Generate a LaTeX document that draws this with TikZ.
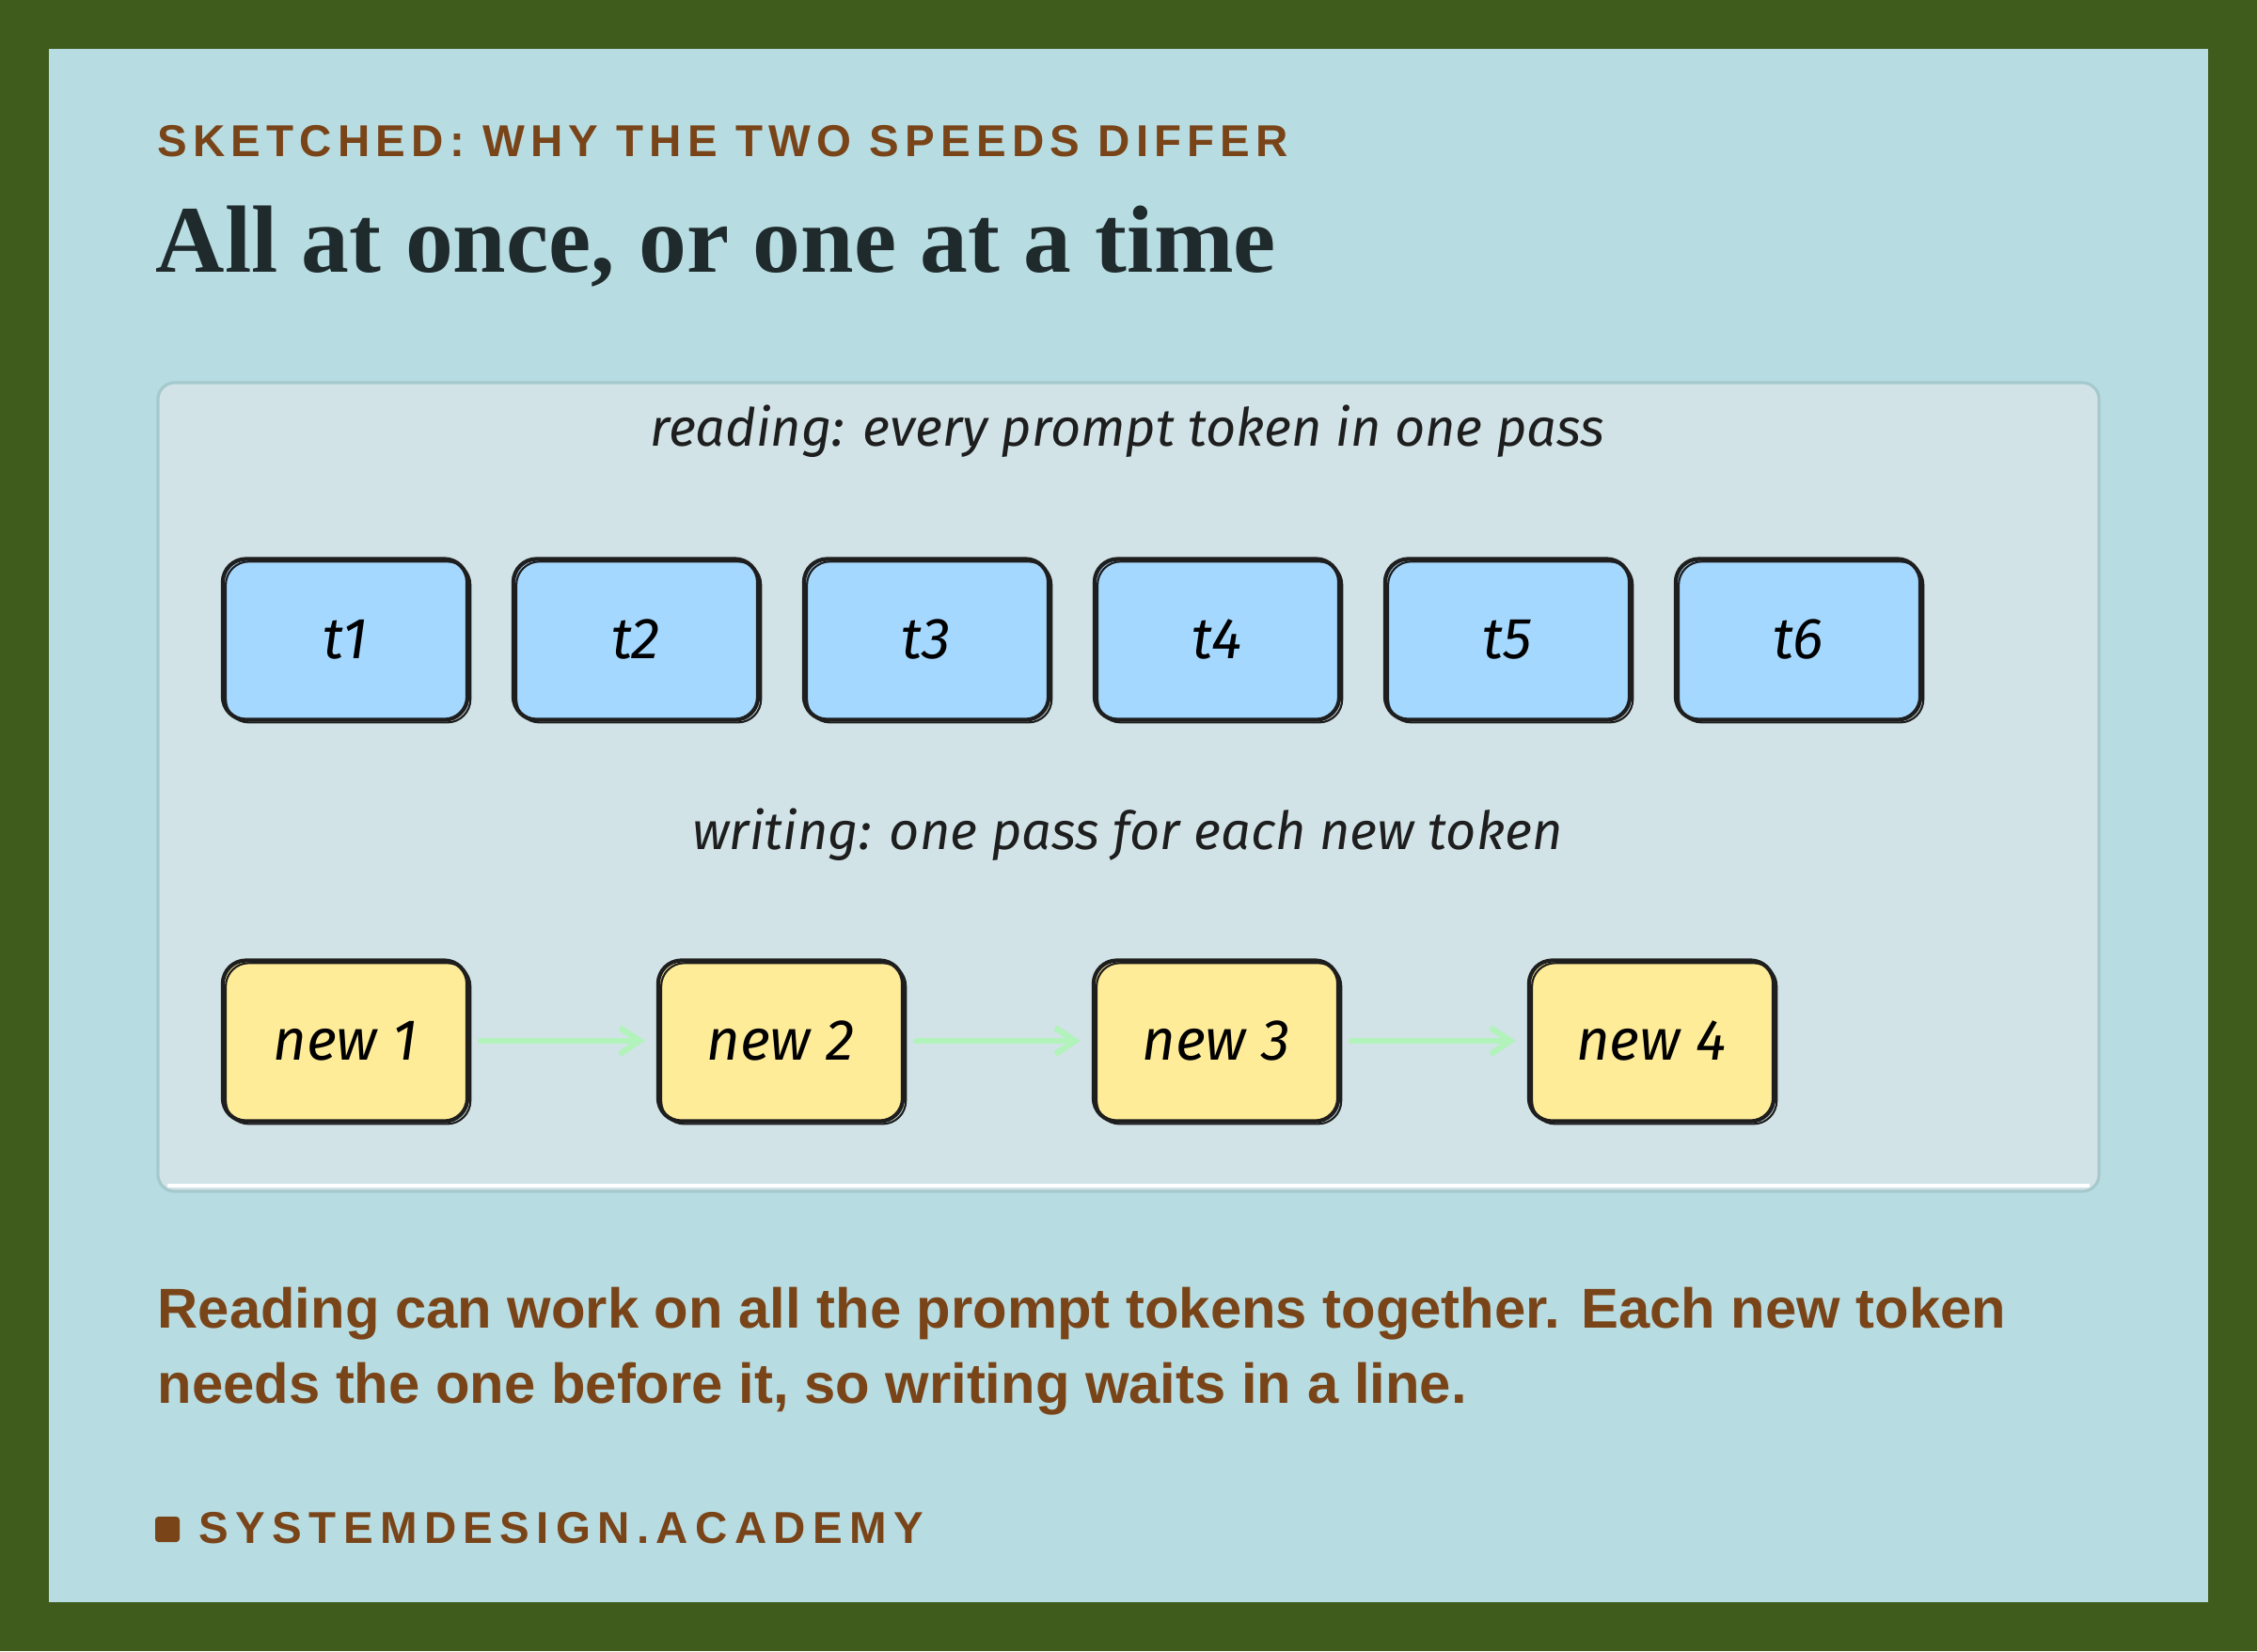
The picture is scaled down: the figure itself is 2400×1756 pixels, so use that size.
\documentclass[tikz,border=0pt]{standalone}
\usepackage{fontspec}
\usepackage{tikz}
\usetikzlibrary{arrows.meta}
\setmainfont{Liberation Serif}
\setsansfont{Liberation Sans}
\newfontfamily\handfont{Fira Sans}
\newfontfamily\kickerfont[LetterSpace=13]{Liberation Sans}
\newfontfamily\sitefont[LetterSpace=15.5]{Liberation Sans}

\definecolor{frame}{HTML}{3F5C1C}
\definecolor{panel}{HTML}{B7DCE1}
\definecolor{card}{HTML}{D1E3E7}
\definecolor{cardline}{HTML}{A6C9CD}
\definecolor{rust}{HTML}{7A4419}
\definecolor{ink}{HTML}{1E1E1E}
\definecolor{headink}{HTML}{1F2A2C}
\definecolor{tokblue}{HTML}{A5D8FF}
\definecolor{newyellow}{HTML}{FFEC99}
\definecolor{flow}{HTML}{B2F2BB}

\begin{document}
\begin{tikzpicture}[x=0.01cm,y=-0.01cm,
	box/.style={draw=ink,line width=1.2pt,rounded corners=7pt,minimum width=2.6cm,minimum height=1.71cm,
		font=\handfont\itshape\fontsize{17.5}{20}\selectfont,
		postaction={draw=ink,fill=none,line width=0.6pt,transform canvas={shift={(0.9pt,-0.8pt)}}}},
	tok/.style={box,fill=tokblue},
	newtok/.style={box,fill=newyellow},
	hand/.style={font=\handfont\itshape\fontsize{15.9}{18}\selectfont,text=ink,anchor=base,inner sep=0pt},
	flowarrow/.style={draw=flow,line width=1.8pt,line cap=round,-{Straight Barb[length=6pt,width=8pt]},shorten >=3.4pt,shorten <=3.4pt},
	body/.style={font=\sffamily\bfseries\fontsize{17}{20}\selectfont,text=rust,anchor=base west,inner sep=0pt}
]
	
	% frame and card
	\fill[frame] (0,0) rectangle (2400,1756);
	\fill[panel] (52,52) rectangle (2348,1704);
	\draw[cardline,fill=card,line width=0.9pt,rounded corners=5pt] (168,407) rectangle (2232,1267);
	\draw[white,line width=1pt] (178,1261) -- (2222,1261);
	
	\node[font=\kickerfont\bfseries\fontsize{13.5}{16}\selectfont,text=rust,anchor=base west,inner sep=0pt] (kicker) at (167,166) {SKETCHED: WHY THE TWO SPEEDS DIFFER};
	\node[font=\rmfamily\bfseries\fontsize{28.9}{32}\selectfont,text=headink,anchor=base west,inner sep=0pt] (title) at (165,289) {All at once, or one at a time};
	
	\node[hand] (readlbl) at (1199,474) {reading: every prompt token in one pass};
	\node[tok] (t1) at (367,680) {t1};
	\node[tok] (t2) at (676,680) {t2};
	\node[tok] (t3) at (985,680) {t3};
	\node[tok] (t4) at (1294,680) {t4};
	\node[tok] (t5) at (1603,680) {t5};
	\node[tok] (t6) at (1912,680) {t6};
	
	\node[hand] (writelbl) at (1199,903) {writing: one pass for each new token};
	\node[newtok] (n1) at (367,1107) {new 1};
	\node[newtok] (n2) at (830,1107) {new 2};
	\node[newtok] (n3) at (1293,1107) {new 3};
	\node[newtok] (n4) at (1756,1107) {new 4};
	
	\path[flowarrow] (n1) edge (n2);
	\path[flowarrow] (n2) edge (n3);
	\path[flowarrow] (n3) edge (n4);
	
	\node[body] (note1) at (167,1412) {Reading can work on all the prompt tokens together. Each new token};
	\node[body] (note2) at (167,1492) {needs the one before it, so writing waits in a line.};
	
	\fill[rust,rounded corners=1pt] (165,1613) rectangle (191,1640);
	\node[font=\sitefont\bfseries\fontsize{13.5}{16}\selectfont,text=rust,anchor=base west,inner sep=0pt] (site) at (211,1641) {SYSTEMDESIGN.ACADEMY};
	
\end{tikzpicture}
\end{document}
